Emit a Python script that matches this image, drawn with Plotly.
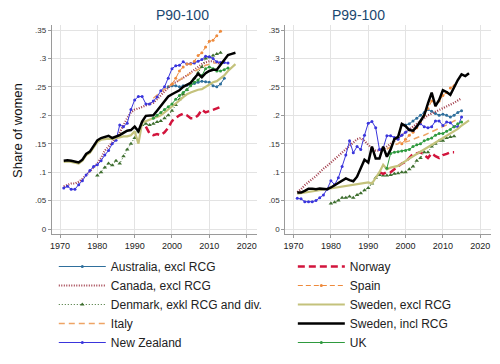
import plotly.graph_objects as go

# ---------------- data ----------------
# P90-100 panel
sweden_incl_p90_start = 1971
sweden_incl_p90 = [.120, .121, .120, .118, .117, .122, .132, .136, .145, .156,
                   .160, .162, .164, .160, .162, .165, .169, .173, .174, .180,
                   .172, .189, .199, .200, .200, .208, .216, .224, .233, .237,
                   .240, .244, .250, .253, .257, .265, .273, .267, .274, .278,
                   .280, .280, .288, .297, .306, .308, .310]
sweden_excl_p90_start = 1971
sweden_excl_p90 = [.118, .119, .118, .116, .115, .120, .130, .134, .143, .153,
                   .157, .158, .159, .158, .160, .162, .163, .163, .165, .172,
                   .150, .187, .190, .192, .195, .197, .200, .205, .210, .215,
                   .220, .226, .232, .237, .240, .243, .245, .246, .250, .255,
                   .258, .260, .265, .270, .278, .284, .290]
nz_p90_start = 1971
nz_p90 = [.072, .075, .070, .070, .078, .085, .095, .103, .110, .113,
          .120, .130, .138, .150, .156, .183, .180, .186, .210, .227,
          .233, .233, .220, .220, .225, .232, .243, .250, .265, .282,
          .287, .288, .294, .290, .291, .292, .295, .298, .304, .303,
          .300, .294, .293, .293, .292]
canada_p90_start = 1971
canada_p90 = [.075, .078, .080, .080, .083, .088, .095, .102, .108, .115,
              .125, .138, .145, .152, .160, .170, .183, .195, .205, .210,
              .212, .215, .218, .220, .222, .228, .235, .242, .248, .255,
              .258, .262, .265, .270, .275, .280, .285, .290, .293, .295,
              .295, .293, .290]
australia_p90_start = 1999
australia_p90 = [.250, .252, .252, .250, .252, .253, .255, .256, .258, .260,
                 .259, .258, .252, .250, .255, .265]
denmark_p90_start = 1980
denmark_p90 = [.094, .100, .108, .115, .112, .120, .115, .128, .140, .150,
               .160, .172, .183, .185, .183, .185, .188, .190, .195, .200,
               .208, .218, .228, .237, .245, .255, .265, .275, .285, .300,
               .302, .305, .308, .310]
italy_p90_start = 1995
italy_p90 = [.230, .236, .241, .246, .250, .255, .259, .263, .266, .270,
             .274, .277, .280, .284, .288, .290, .292, .293]
spain_p90_start = 2000
spain_p90 = [.255, .265, .278, .285, .290, .290, .295, .305, .310, .320,
             .330, .332, .340, .348]
norway_p90_start = 1993
norway_p90 = [.180, .168, .165, .167, .165, .170, .178, .190, .195, .200,
              .203, .200, .195, .195, .200, .210, .205, .207, .210, .212, .215]
uk_p90_start = 1995
uk_p90 = [.195, .200, .205, .210, .215, .220, .228, .235, .240, .245,
          .252, .258, .262, .270, .282, .285, .282, .278, .278, .280, .283]

# P99-100 panel
sweden_incl_p99_start = 1971
sweden_incl_p99 = [.064, .064, .067, .071, .071, .070, .071, .071, .070, .073,
                   .077, .082, .086, .089, .086, .084, .092, .107, .122, .117,
                   .145, .124, .124, .145, .127, .140, .158, .162, .185, .181,
                   .174, .173, .180, .190, .200, .221, .240, .216, .227, .244,
                   .241, .236, .250, .262, .272, .269, .274]
sweden_excl_p99_start = 1971
sweden_excl_p99 = [.062, .063, .064, .066, .066, .067, .068, .069, .070, .071,
                   .072, .073, .074, .075, .076, .077, .078, .080, .081, .082,
                   .080, .090, .100, .113, .105, .108, .110, .111, .115, .120,
                   .124, .128, .132, .136, .140, .144, .148, .152, .156, .160,
                   .164, .168, .172, .176, .182, .187, .191]
nz_p99_start = 1971
nz_p99 = [.054, .053, .048, .048, .048, .050, .055, .060, .070, .085,
          .078, .090, .110, .130, .155, .134, .145, .140, .165, .186,
          .189, .178, .140, .142, .164, .164, .161, .158, .165, .170,
          .175, .172, .180, .185, .180, .178, .180, .190, .190, .182,
          .188, .187, .180, .180, .197]
canada_p99_start = 1971
canada_p99 = [.065, .070, .077, .083, .088, .093, .100, .106, .111, .117,
              .123, .129, .134, .141, .147, .152, .158, .160, .155, .148,
              .142, .138, .138, .140, .145, .150, .155, .160, .165, .170,
              .175, .180, .185, .190, .195, .200, .203, .206, .210, .212,
              .215, .218, .222, .226, .230]
australia_p99_start = 1999
australia_p99 = [.183, .183, .185, .190, .195, .200, .205, .210, .207, .203,
                 .200, .202, .200, .197, .200, .205, .208]
denmark_p99_start = 1980
denmark_p99 = [.045, .047, .050, .055, .055, .057, .055, .060, .063, .068,
               .072, .080, .090, .095, .094, .094, .095, .097, .098, .100,
               .100, .105, .110, .120, .125, .135, .135, .145, .150, .155,
               .155, .160, .162, .163]
italy_p99_start = 1995
italy_p99 = [.140, .145, .148, .150, .155, .153, .155, .158, .160, .163,
             .165, .168, .170, .173, .176, .180, .183, .186, .190, .193]
spain_p99_start = 1999
spain_p99 = [.150, .158, .165, .170, .178, .188, .200, .212, .225, .218,
             .225, .235, .240, .248, .252]
norway_p99_start = 1993
norway_p99 = [.100, .097, .100, .100, .105, .110, .115, .118, .125, .132,
              .133, .135, .130, .125, .133, .128, .125, .130, .132, .135, .135]
uk_p99_start = 1995
uk_p99 = [.107, .133, .135, .136, .137, .138, .140, .145, .148, .150,
          .155, .158, .160, .165, .168, .168, .172, .175, .180, .185, .188]

panel_titles = ["P90-100", "P99-100"]
y_tick_vals = [0, .05, .1, .15, .2, .25, .3, .35]
y_tick_text = ["0", ".05", ".1", ".15", ".2", ".25", ".3", ".35"]
x_tick_vals = [1970, 1980, 1990, 2000, 2010, 2020]
y_title = "Share of women"

# series: name, p90 (start, values), p99 (start, values), style
series = [
    ("Australia, excl RCG", australia_p90_start, australia_p90, australia_p99_start, australia_p99,
     dict(color="#2f6f9c", width=1, dash="solid"), dict(symbol="circle", size=3), "legend"),
    ("Canada, excl RCG", canada_p90_start, canada_p90, canada_p99_start, canada_p99,
     dict(color="#a03a48", width=2.2, dash="1px,1.5px"), None, "legend"),
    ("Denmark, exkl RCG and div.", denmark_p90_start, denmark_p90, denmark_p99_start, denmark_p99,
     dict(color="#3d6e2e", width=1, dash="1px,2px"), dict(symbol="triangle-up", size=4), "legend"),
    ("Italy", italy_p90_start, italy_p90, italy_p99_start, italy_p99,
     dict(color="#eea465", width=1.5, dash="6px,4px"), None, "legend"),
    ("New Zealand", nz_p90_start, nz_p90, nz_p99_start, nz_p99,
     dict(color="#3a35dc", width=1, dash="solid"), dict(symbol="circle", size=3), "legend"),
    ("Norway", norway_p90_start, norway_p90, norway_p99_start, norway_p99,
     dict(color="#d2143c", width=2.5, dash="7px,4px"), None, "legend2"),
    ("Spain", spain_p90_start, spain_p90, spain_p99_start, spain_p99,
     dict(color="#ee8a3c", width=1, dash="5px,3px"), dict(symbol="circle", size=3), "legend2"),
    ("Sweden, excl RCG", sweden_excl_p90_start, sweden_excl_p90, sweden_excl_p99_start, sweden_excl_p99,
     dict(color="#c4c27c", width=2.2, dash="solid"), None, "legend2"),
    ("Sweden, incl RCG", sweden_incl_p90_start, sweden_incl_p90, sweden_incl_p99_start, sweden_incl_p99,
     dict(color="#000000", width=2.5, dash="solid"), None, "legend2"),
    ("UK", uk_p90_start, uk_p90, uk_p99_start, uk_p99,
     dict(color="#2e9a3e", width=1, dash="solid"), dict(symbol="circle", size=3), "legend2"),
]

# draw order: Sweden incl RCG last (on top); legendrank keeps legend order
draw_order = [0, 1, 2, 3, 4, 5, 6, 7, 9, 8]

fig = go.Figure()
for idx in draw_order:
    name, s90, v90, s99, v99, line, marker, leg = series[idx]
    mode = "lines+markers" if marker else "lines"
    mk = dict(color=line["color"], **marker) if marker else None
    for panel, (start, vals) in enumerate([(s90, v90), (s99, v99)]):
        years = list(range(start, start + len(vals)))
        fig.add_trace(go.Scatter(
            x=years, y=vals, mode=mode, name=name, line=line, marker=mk,
            legendgroup=name, showlegend=(panel == 0), legend=leg, legendrank=idx + 1,
            xaxis="x" if panel == 0 else "x2", yaxis="y" if panel == 0 else "y2",
            hoverinfo="skip"))

W, H = 500, 364
FONT = "Arial, 'Liberation Sans', sans-serif"
grid = "#e3e3e3"
axcol = "#9a9a9a"

xr = [1967.8, 2022.9]
yr = [-0.0088, 0.3588]
ydom = [1 - 234 / H, 1 - 25 / H]

common_x = dict(range=xr, tickvals=x_tick_vals, showgrid=True, gridcolor=grid, gridwidth=1,
                showline=True, linecolor=axcol, linewidth=1, ticks="outside", ticklen=3,
                tickcolor=axcol, tickfont=dict(size=9, color="#222", family=FONT),
                zeroline=False, fixedrange=True)
common_y = dict(range=yr, tickvals=y_tick_vals, ticktext=y_tick_text, showgrid=True,
                gridcolor=grid, gridwidth=1, showline=True, linecolor=axcol, linewidth=1,
                ticks="outside", ticklen=3, tickcolor=axcol,
                tickfont=dict(size=8, color="#333", family=FONT), zeroline=False,
                fixedrange=True)

leg_common = dict(yanchor="top", xanchor="left", orientation="v",
                  bgcolor="rgba(0,0,0,0)", itemwidth=47,
                  font=dict(size=12, family=FONT, color="#222"), tracegroupgap=0,
                  itemclick=False, itemdoubleclick=False)

fig.update_layout(
    width=W, height=H,
    margin=dict(l=0, r=0, t=0, b=0),
    paper_bgcolor="white", plot_bgcolor="white",
    font=dict(family=FONT, color="#222"),
    xaxis=dict(domain=[50 / W, 256.5 / W], anchor="y", **common_x),
    yaxis=dict(domain=ydom, anchor="x", **common_y),
    xaxis2=dict(domain=[284.5 / W, 491 / W], anchor="y2", **common_x),
    yaxis2=dict(domain=ydom, anchor="x2", **common_y),
    legend=dict(x=52 / W, y=1 - 252 / H, **leg_common),
    legend2=dict(x=292 / W, y=1 - 252 / H, **leg_common),
    annotations=[
        dict(text=panel_titles[0], x=153 / W, y=1 - 15 / H, xref="paper", yref="paper",
             yanchor="middle", showarrow=False,
             font=dict(size=14, color="#1a476f", family=FONT)),
        dict(text=panel_titles[1], x=387 / W, y=1 - 15 / H, xref="paper", yref="paper",
             yanchor="middle", showarrow=False,
             font=dict(size=14, color="#1a476f", family=FONT)),
        dict(text=y_title, x=15 / W, y=1 - 130 / H, xref="paper", yref="paper",
             xanchor="center", yanchor="middle",
             showarrow=False, textangle=-90, font=dict(size=13, color="#111", family=FONT)),
    ],
)

fig.write_html("out.html", config={"displayModeBar": False},
               post_script="document.body.style.margin='0px';")
